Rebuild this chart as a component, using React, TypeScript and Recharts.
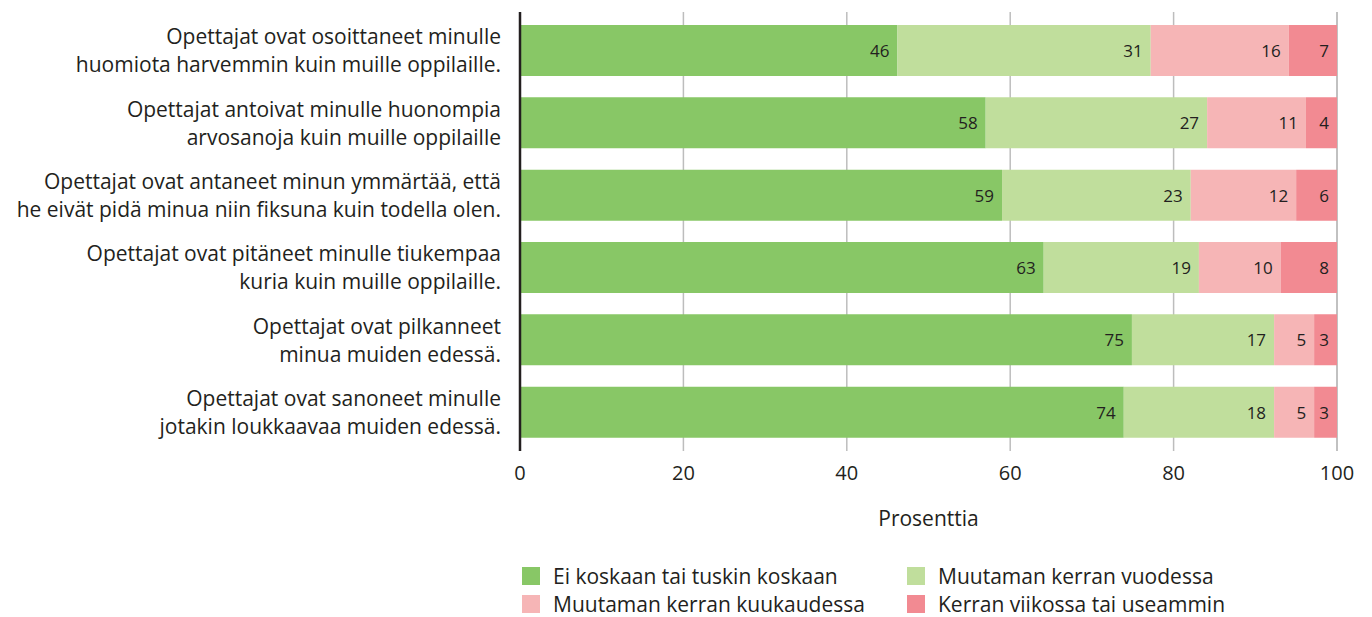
import React from 'react'
import { Bar, BarChart, CartesianGrid, Label, LabelList, Legend, XAxis, YAxis } from 'recharts'

const categories = [
  'Opettajat ovat osoittaneet minulle\nhuomiota harvemmin kuin muille oppilaille.',
  'Opettajat antoivat minulle huonompia\narvosanoja kuin muille oppilaille',
  'Opettajat ovat antaneet minun ymmärtää, että\nhe eivät pidä minua niin fiksuna kuin todella olen.',
  'Opettajat ovat pitäneet minulle tiukempaa\nkuria kuin muille oppilaille.',
  'Opettajat ovat pilkanneet\nminua muiden edessä.',
  'Opettajat ovat sanoneet minulle\njotakin loukkaavaa muiden edessä.',
]

// bar lengths (percent)
const neverValues = [46.2, 57.0, 59.0, 64.1, 74.9, 73.9]
const yearlyValues = [31.0, 27.1, 23.1, 19.0, 17.4, 18.4]
const monthlyValues = [16.9, 12.1, 12.9, 10.0, 4.9, 4.9]
const weeklyValues = [5.9, 3.8, 5.0, 6.9, 2.8, 2.8]

// numbers printed inside the segments
const neverLabels = [46, 58, 59, 63, 75, 74]
const yearlyLabels = [31, 27, 23, 19, 17, 18]
const monthlyLabels = [16, 11, 12, 10, 5, 5]
const weeklyLabels = [7, 4, 6, 8, 3, 3]

const xTicks = [0, 20, 40, 60, 80, 100]

const series = [
  { key: 'never', name: 'Ei koskaan tai tuskin koskaan', color: '#88c766', labels: neverLabels },
  { key: 'yearly', name: 'Muutaman kerran vuodessa', color: '#c0de9c', labels: yearlyLabels },
  { key: 'monthly', name: 'Muutaman kerran kuukaudessa', color: '#f6b5b6', labels: monthlyLabels },
  { key: 'weekly', name: 'Kerran viikossa tai useammin', color: '#f28a92', labels: weeklyLabels },
]

const data = categories.map((category, i) => ({
  category,
  never: neverValues[i],
  yearly: yearlyValues[i],
  monthly: monthlyValues[i],
  weekly: weeklyValues[i],
}))

const FONT = '"Open Sans", sans-serif'
const TEXT = '#231f20'

function CategoryTick({ x, y, payload }: any) {
  const lines = String(payload.value).split('\n')
  return (
    <text x={x} y={y} textAnchor="end" fontFamily={FONT} fontSize={21} fill={TEXT}>
      {lines.map((line, i) => (
        <tspan key={i} x={x} y={y + (i - (lines.length - 1) / 2) * 28} dominantBaseline="central">
          {line}
        </tspan>
      ))}
    </text>
  )
}

function segmentLabel(labels: number[]) {
  return ({ x, y, width, height, index }: any) => (
    <text
      x={x + width - 8}
      y={y + height / 2}
      textAnchor="end"
      dominantBaseline="central"
      fontFamily={FONT}
      fontSize={17}
      fill={TEXT}
    >
      {labels[index]}
    </text>
  )
}

function LegendGrid() {
  return (
    <div
      style={{
        display: 'grid',
        gridTemplateColumns: '385px 385px',
        gridAutoRows: '28px',
        fontFamily: FONT,
        fontSize: 21,
        color: TEXT,
      }}
    >
      {series.map((s) => (
        <div key={s.key} style={{ display: 'flex', alignItems: 'center' }}>
          <span style={{ width: 18, height: 18, background: s.color, marginRight: 13, flex: 'none' }} />
          <span style={{ whiteSpace: 'nowrap' }}>{s.name}</span>
        </div>
      ))}
    </div>
  )
}

export default function App() {
  // shifted 8px left so the longest category line can reach the page edge
  return (
    <div style={{ marginLeft: -8 }}>
      <BarChart
        width={1364}
        height={609}
        data={data}
        layout="vertical"
        margin={{ top: 4, right: 27, bottom: 86, left: 0 }}
        barSize={51}
      >
        <CartesianGrid horizontal={false} stroke="#bdbdbd" strokeWidth={1.5} />
        <XAxis
          type="number"
          domain={[0, 100]}
          ticks={xTicks}
          axisLine={false}
          tickLine={false}
          tickMargin={9}
          height={80}
          tick={{ fontFamily: FONT, fontSize: 20, fill: TEXT }}
        >
          <Label
            content={({ viewBox }: any) => (
              <text
                x={viewBox.x + viewBox.width / 2}
                y={510}
                textAnchor="middle"
                dominantBaseline="central"
                fontFamily={FONT}
                fontSize={21}
                fill={TEXT}
              >
                Prosenttia
              </text>
            )}
          />
        </XAxis>
        <YAxis
          type="category"
          dataKey="category"
          width={520}
          padding={{ top: 2, bottom: 3 }}
          tickLine={false}
          tickSize={0}
          tickMargin={19}
          axisLine={{ stroke: '#231f20', strokeWidth: 2.5 }}
          tick={<CategoryTick />}
          interval={0}
        />
        {series.map((s) => (
          <Bar key={s.key} dataKey={s.key} name={s.name} stackId="a" fill={s.color} isAnimationActive={false}>
            <LabelList dataKey={s.key} content={segmentLabel(s.labels)} />
          </Bar>
        ))}
        <Legend
          layout="vertical"
          align="center"
          verticalAlign="middle"
          content={<LegendGrid />}
          wrapperStyle={{ left: 522, top: 554, width: 800, height: 56 }}
        />
      </BarChart>
    </div>
  )
}
